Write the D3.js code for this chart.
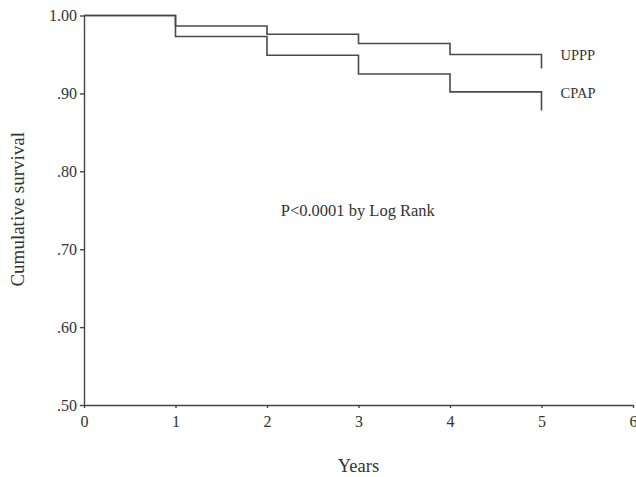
<!DOCTYPE html>
<html>
<head>
<meta charset="utf-8">
<script src="https://cdn.jsdelivr.net/npm/d3@7"></script>
<style>
    body { margin: 0; background: #fff; }
    svg { display: block; }
    text { font-family: "Liberation Serif", "Times New Roman", serif; fill: #333; }
    .axis path, .axis line { stroke: #444; stroke-width: 1.4; }
    .axis text { font-size: 16px; fill: #333; }
    .line { fill: none; stroke: #4a4a4a; stroke-width: 1.6; }
</style>
</head>
<body>
<svg id="chart" width="636" height="477"></svg>
<script>
// Kaplan-Meier steps
const years = [0, 1, 2, 3, 4, 5];
const upppSurvival = [1.000, 0.9865, 0.976, 0.964, 0.950, 0.932];
const cpapSurvival = [1.000, 0.973, 0.949, 0.925, 0.902, 0.878];
const seriesNames = ["UPPP", "CPAP"];
const xTicks = [0, 1, 2, 3, 4, 5, 6];
const yTicks = [0.5, 0.6, 0.7, 0.8, 0.9, 1.0];
const yTickLabels = [".50", ".60", ".70", ".80", ".90", "1.00"];

const margin = {top: 15.5, right: 3, bottom: 72, left: 84};
const width = 636 - margin.left - margin.right;
const height = 477 - margin.top - margin.bottom;

const svg = d3.select("#chart");
const chart = svg.append("g")
    .attr("transform", "translate(" + margin.left + "," + margin.top + ")");

const xScale = d3.scaleLinear().domain([0, 6]).range([0, width]);
const yScale = d3.scaleLinear().domain([0.5, 1.0]).range([height, 0]);

chart.append("g")
    .attr("class", "x axis")
    .attr("transform", "translate(0," + height + ")")
    .call(d3.axisBottom(xScale).tickValues(xTicks).tickSize(3).tickSizeOuter(0).tickPadding(8)
        .tickFormat(d3.format("d")));

chart.append("g")
    .attr("class", "y axis")
    .call(d3.axisLeft(yScale).tickValues(yTicks).tickSize(4).tickSizeOuter(0).tickPadding(3)
        .tickFormat(function(d, i) { return yTickLabels[i]; }));

const line = d3.line()
    .x(function(d) { return xScale(d.x); })
    .y(function(d) { return yScale(d.y); })
    .curve(d3.curveStepAfter);

const series = [upppSurvival, cpapSurvival].map(function(vals, k) {
    return {name: seriesNames[k], values: years.map(function(t, i) { return {x: t, y: vals[i]}; })};
});

chart.selectAll(".line")
    .data(series)
    .enter()
    .append("path")
        .attr("class", "line")
        .attr("d", function(d) { return line(d.values); });

// series labels next to the end of each curve
chart.selectAll(".label")
    .data(series)
    .enter()
    .append("text")
        .attr("class", "label")
        .attr("x", xScale(5) + 19)
        .attr("y", function(d) { return yScale(d.values[d.values.length - 2].y) + 6; })
        .style("font-size", "14.5px")
        .text(function(d) { return d.name; });

chart.append("text")
    .attr("x", xScale(2.15))
    .attr("y", yScale(0.75) + 6)
    .style("font-size", "16.5px")
    .text("P<0.0001 by Log Rank");

chart.append("text")
    .attr("text-anchor", "middle")
    .attr("x", xScale(3))
    .attr("y", height + 67)
    .style("font-size", "18.5px")
    .text("Years");

chart.append("text")
    .attr("text-anchor", "middle")
    .attr("transform", "translate(" + (-margin.left + 24) + "," + (yScale(0.75) - 1) + ") rotate(-90)")
    .style("font-size", "19px")
    .text("Cumulative survival");
</script>
</body>
</html>
